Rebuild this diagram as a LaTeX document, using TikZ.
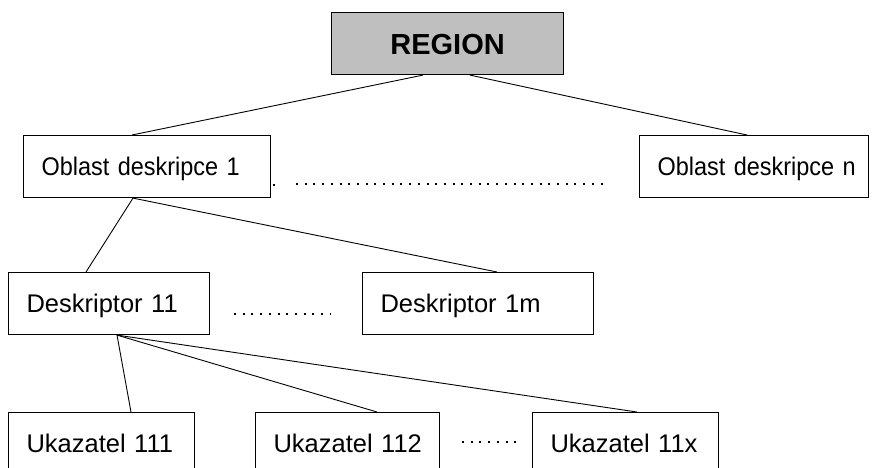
\documentclass[tikz,border=0pt]{standalone}
\usepackage{fontspec}
\setmainfont{Liberation Sans}
\newfontfamily\narrowfont[FakeStretch=0.92]{Liberation Sans}
\usetikzlibrary{calc}
\begin{document}
\begin{tikzpicture}[x=1pt,y=-1pt,
	box/.style={draw=black,line width=1.1pt,anchor=north west,minimum height=62pt,inner sep=0pt,align=left,text height=18.4pt,text depth=0pt,execute at begin node={\hspace*{18pt}},font=\fontsize{25.5}{30}\selectfont},
	area/.style={box,font=\fontsize{25.5}{30}\narrowfont},
	link/.style={draw=black,line width=0.9pt},
	dots/.style={draw=black,line width=2pt,dash pattern=on 2pt off 6.7pt}]
	\useasboundingbox (0,0) rectangle (875,468);
	\clip (0,0) rectangle (875,468);
	
	\node[draw=black,line width=1.1pt,anchor=north west,fill=black!25,inner sep=0pt,minimum width=232pt,minimum height=62pt,text height=21pt,text depth=0pt,font=\fontsize{29}{34}\selectfont\bfseries] (region) at (331,12) {REGION};
	
	\node[area,text width=247pt] (o1) at (23,135) {Oblast deskripce 1};
	\node[area,text width=229pt] (on) at (639,135) {Oblast deskripce n};
	
	\node[box,text width=201pt] (d11) at (8,272) {Deskriptor 11};
	\node[box,text width=231pt] (d1m) at (362,272) {Deskriptor 1m};
	
	\node[box,text width=186pt] (u111) at (8,412) {Ukazatel 111};
	\node[box,text width=184pt] (u112) at (255,412) {Ukazatel 112};
	\node[box,text width=186pt] (u11x) at (532,412) {Ukazatel 11x};
	
	\draw[link] ($(region.south west)+(92,0)$) -- ($(o1.north west)+(109,0)$);
	\draw[link] ($(region.south west)+(139,0)$) -- ($(on.north west)+(108,0)$);
	\draw[link] ($(o1.south west)+(110,0)$) -- ($(d11.north west)+(78,0)$);
	\draw[link] ($(o1.south west)+(110,0)$) -- ($(d1m.north west)+(135,0)$);
	\draw[link] ($(d11.south west)+(109,0)$) -- ($(u111.north west)+(123,0)$);
	\draw[link] ($(d11.south west)+(109,0)$) -- ($(u112.north west)+(122,0)$);
	\draw[link] ($(d11.south west)+(109,0)$) -- ($(u11x.north west)+(105,0)$);
	
	% ellipses between the boxes
	\coordinate (dotA) at (273,184);
	\coordinate (dotB) at (296,184);
	\coordinate (dotC) at (608,184);
	\fill (dotA) rectangle +(2,2);
	\draw[dots] (dotB) -- (dotC);
	\coordinate (dotD) at (234,314);
	\coordinate (dotE) at (331,314);
	\draw[dots] (dotD) -- (dotE);
	\coordinate (dotF) at (462,442);
	\coordinate (dotG) at (516,442);
	\draw[dots] (dotF) -- (dotG);
\end{tikzpicture}
\end{document}
